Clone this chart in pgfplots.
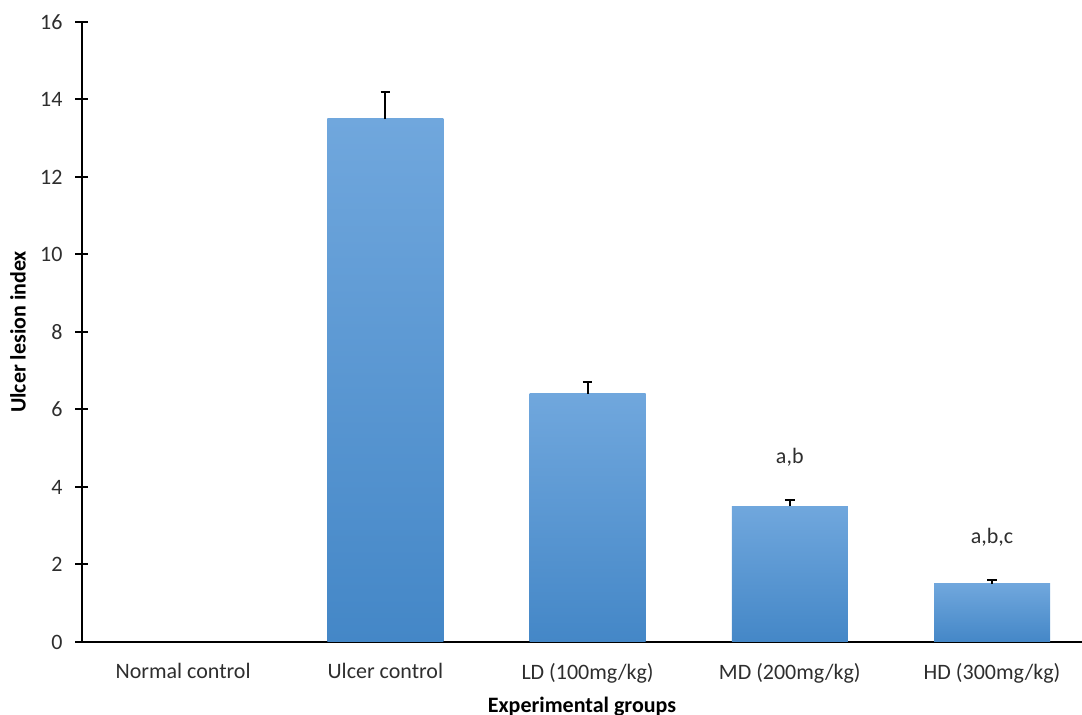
\documentclass[border=0pt]{standalone}
\usepackage{fontspec}
\setmainfont{Carlito}
\usepackage{pgfplots}
\pgfplotsset{compat=1.18}

\definecolor{bartop}{HTML}{70A7DD}
\definecolor{barbot}{HTML}{4487C7}
\definecolor{txt}{HTML}{2E2E2E}

\pgfplotsset{
  errbar/.style={
    error bars/.cd, y dir=plus, y explicit, error mark=-,
    error bar style={black, line width=1pt, solid},
    error mark options={rotate=90, draw=black, line width=1pt, mark size=2.4pt},
  },
  shadedbar/.style={
    ybar, bar width=58pt, bar shift=0pt, draw=none,
    top color=bartop, bottom color=barbot, errbar,
  },
}

\begin{document}
\begin{tikzpicture}
\begin{axis}[
  at={(0,0)}, anchor=south west,
  width=500pt, height=310pt, scale only axis,
  xmin=-0.5, xmax=4.445, ymin=0, ymax=16,
  axis x line*=bottom, axis y line*=left,
  axis line style={-, line width=1pt, black},
  ytick={0,2,...,16},
  xtick={0,1,2,3,4},
  xticklabels={Normal control, Ulcer control, LD (100mg/kg), MD (200mg/kg), HD (300mg/kg)},
  tick align=center, major tick length=6.5pt,
  tick style={black, line width=1pt},
  xtick style={draw=none},
  extra x ticks={-0.5,0.5,1.5,2.5,3.5},
  extra x tick labels={},
  extra x tick style={tick align=outside, major tick length=3.5pt,
    tick style={black, line width=1pt}},
  /pgf/number format/assume math mode=true,
  ticklabel style={font=\fontsize{11}{13}\selectfont, color=txt},
  yticklabel style={xshift=-3pt},
  xticklabel style={yshift=-4pt},
  every axis y label/.style={at={(axis description cs:-0.064,0.5)},
    rotate=90, anchor=center},
  every axis x label/.style={at={(axis description cs:0.5,-0.104)},
    anchor=center},
  label style={font=\fontsize{11}{13}\selectfont\bfseries, color=black},
  xlabel={Experimental groups},
  ylabel={Ulcer lesion index},
  clip=false,
]
% Ulcer lesion index (mean, +SEM) per group; normal control is 0
\addplot[shadedbar] coordinates {(1,13.5) +- (0,0.7)};
\addplot[shadedbar] coordinates {(2,6.4) +- (0,0.3)};
\addplot[shadedbar] coordinates {(3,3.5) +- (0,0.17)};
\addplot[shadedbar] coordinates {(4,1.5) +- (0,0.1)};

\node[font=\fontsize{11}{13}\selectfont, color=txt] at (axis cs:3,4.77) {a,b};
\node[font=\fontsize{11}{13}\selectfont, color=txt] at (axis cs:4,2.7) {a,b,c};
\end{axis}
\pgfresetboundingbox
\path[use as bounding box] (-41pt,-36.5pt) rectangle (500pt,321pt);
\end{tikzpicture}
\end{document}
